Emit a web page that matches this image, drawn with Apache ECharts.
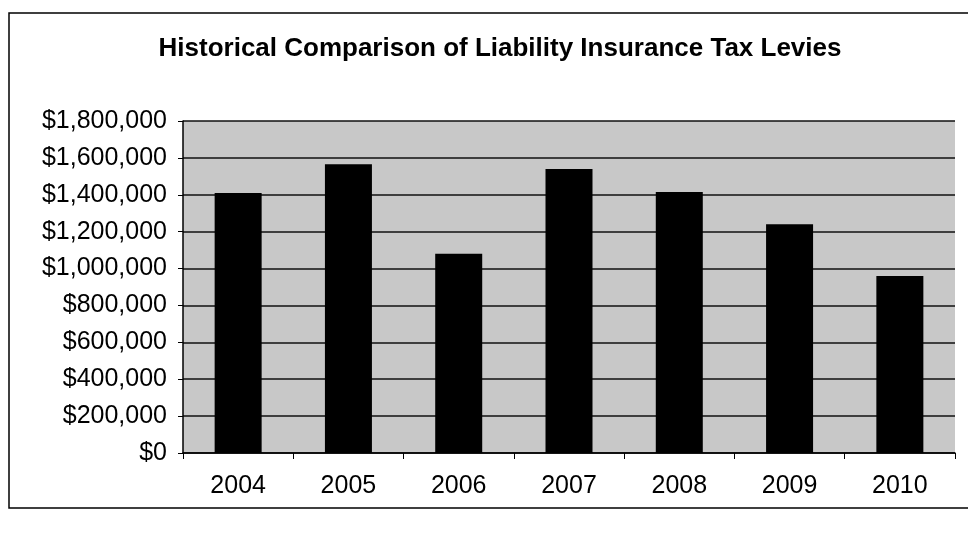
<!DOCTYPE html>
<html><head><meta charset="utf-8">
<script src="https://cdn.jsdelivr.net/npm/echarts@6/dist/echarts.min.js"></script>
<style>html,body{margin:0;padding:0;background:#fff}#c{width:968px;height:538px}</style>
</head><body><div id="c"></div>
<script>
const categories = ['2004','2005','2006','2007','2008','2009','2010'];
const levies = [1410000, 1565000, 1080000, 1540000, 1415000, 1240000, 960000];
const yTicks = [0, 200000, 400000, 600000, 800000, 1000000, 1200000, 1400000, 1600000, 1800000];

const chart = echarts.init(document.getElementById('c'));
function fmt(v){ return '$' + v.toString().replace(/\B(?=(\d{3})+(?!\d))/g, ','); }
chart.setOption({
  backgroundColor: '#ffffff',
  animation: false,
  title: {
    text: 'Historical Comparison of Liability Insurance Tax Levies',
    left: 495, top: 31, textAlign: 'center',
    textStyle: {fontFamily: 'Liberation Sans, Arial', fontWeight: 'bold', fontSize: 26, color: '#000'}
  },
  graphic: [{
    type: 'rect', shape: {x: 9, y: 13, width: 980, height: 495},
    style: {fill: 'none', stroke: '#000', lineWidth: 1.5}, silent: true
  }],
  grid: {left: 183, right: 13, top: 121, bottom: 85, show: true, backgroundColor: '#c8c8c8', borderWidth: 0},
  xAxis: {
    type: 'category', data: categories,
    axisLine: {lineStyle: {color: '#000', width: 1.5}},
    axisTick: {show: true, length: 6, lineStyle: {color: '#000'}},
    axisLabel: {margin: 21, fontFamily: 'Liberation Sans, Arial', fontSize: 25, color: '#000'}
  },
  yAxis: {
    type: 'value', min: yTicks[0], max: yTicks[yTicks.length-1], interval: yTicks[1]-yTicks[0],
    axisLine: {show: true, lineStyle: {color: '#000', width: 1.5}},
    axisTick: {show: true, length: 5, lineStyle: {color: '#000'}},
    splitLine: {lineStyle: {color: '#111', width: 1.5}},
    axisLabel: {margin: 16, formatter: fmt, fontFamily: 'Liberation Sans, Arial', fontSize: 25, color: '#000', padding: [0, 0, 5, 0]}
  },
  series: [{
    type: 'bar', data: levies, barWidth: 47,
    itemStyle: {color: '#000'}
  }]
});
</script></body></html>
